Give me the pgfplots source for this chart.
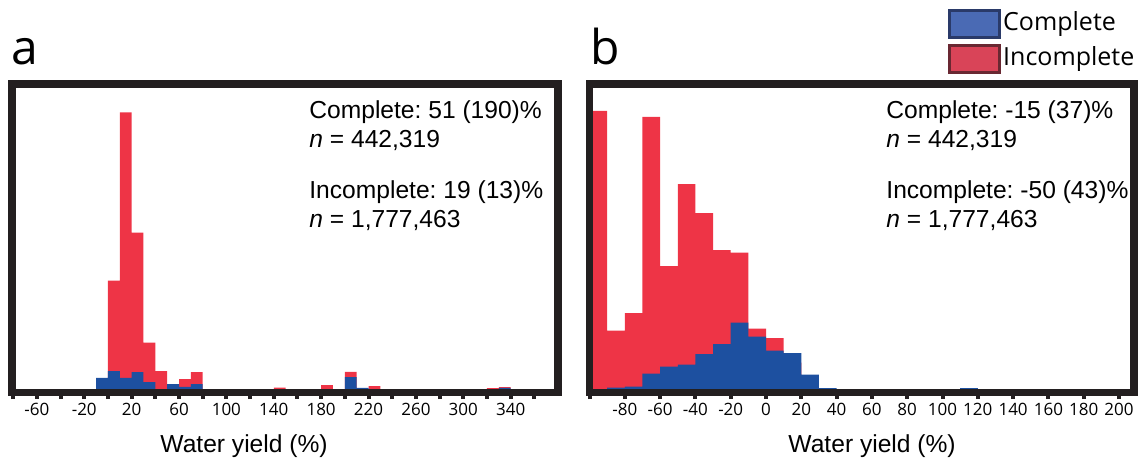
\documentclass[border=0pt]{standalone}
\usepackage{pgfplots}
\pgfplotsset{compat=1.18}
\usepackage{fontspec}
\setmainfont{Liberation Sans}
\newfontfamily\myr{Open Sans}
\frenchspacing

\definecolor{barred}{RGB}{238,52,70}
\definecolor{barblue}{RGB}{29,80,160}
\definecolor{framec}{RGB}{35,31,32}
\definecolor{legblue}{RGB}{74,106,180}
\definecolor{legblueb}{RGB}{42,58,105}
\definecolor{legred}{RGB}{217,68,88}
\definecolor{legredb}{RGB}{105,40,50}

\pgfplotsset{
  panel/.style={
    scale only axis,
    height=154.25pt,
    ymin=0, ymax=308.5,
    ytick=\empty,
    axis on top,
    axis line style={line width=3.75pt, draw=framec},
    tick align=outside,
    xtick pos=bottom,
    major tick length=3.25pt,
    minor tick length=3.25pt,
    every tick/.append style={line width=2pt, draw=framec},
    xticklabel style={font=\myr\fontsize{8.5}{9}\selectfont, anchor=base, yshift=-8.2pt},
    xlabel style={font=\fontsize{12.3}{14}\selectfont, anchor=base},
  },
  redbars/.style={ybar interval, fill=barred, draw=none, forget plot},
  bluebars/.style={ybar interval, fill=barblue, draw=none, forget plot},
}

\begin{document}
\begin{tikzpicture}[x=0.5pt, y=0.5pt]
\useasboundingbox (0,0) rectangle (1144,461);

% panel a
\begin{axis}[panel,
  at={(6pt,34.25pt)}, anchor=south west,
  width=273pt,
  xmin=-81, xmax=380,
  xtick={-60,-20,...,340},
  xticklabels={-60,-20,20,60,100,140,180,220,260,300,340},
  minor xtick={-80,-40,...,380},
  xlabel={Water yield (\%)},
  xlabel style={at={(axis description cs:0.425,0)}, yshift=-29.75pt},
]
\addplot[redbars] coordinates {
  (0,112) (10,280) (20,160) (30,50) (40,21.3) (50,6) (60,13.3) (70,20.3)
  (80,0) (140,5) (150,0) (180,7.3) (190,0) (200,20.7) (210,0) (220,6.3)
  (230,0) (320,4.5) (330,5.3) (340,0)
};
\addplot[bluebars] coordinates {
  (-10,14.7) (0,21.3) (10,14.7) (20,20.3) (30,10.3) (40,0) (50,8.3)
  (60,5.7) (70,8.3) (80,0) (200,15.3) (210,4.7) (220,0) (330,4.7) (340,0)
};
\end{axis}

% panel b
\begin{axis}[panel,
  at={(294.75pt,34.25pt)}, anchor=south west,
  width=272.25pt,
  xmin=-100, xmax=208.5,
  xtick={-80,-60,...,200},
  xticklabels={-80,-60,-40,-20,0,20,40,60,80,100,120,140,160,180,200},
  minor xtick={-100},
  xlabel={Water yield (\%)},
  xlabel style={at={(axis description cs:0.519,0)}, yshift=-29.75pt},
  legend style={draw=none, fill=none, at={(axis description cs:0.658,1.246)},
    anchor=north west, inner sep=0pt, row sep=2.5pt,
    font=\myr\fontsize{12.5}{12.5}\selectfont,
    nodes={inner sep=1pt, text height=9pt, text depth=2.5pt}},
  legend cell align=left,
  legend image code/.code={\draw[#1, line width=1.5pt] (0pt,-6.75pt) rectangle (25pt,6.75pt);},
]
\addplot[redbars] coordinates {
  (-100,281.5) (-90,61.8) (-80,79.5) (-70,275.5) (-60,126.5) (-50,208.5)
  (-40,179.5) (-30,142.5) (-20,139.8) (-10,63.8) (0,54.5) (10,30) (20,10) (30,0)
};
\addplot[bluebars] coordinates {
  (-100,0) (-90,4.8) (-80,5.8) (-70,18.8) (-60,25.8) (-50,27.8) (-40,38.5)
  (-30,48.5) (-20,69.8) (-10,55.8) (0,41.8) (10,39.5) (20,17.8) (30,4.5)
  (40,0) (110,4.5) (120,0)
};
\addlegendimage{fill=legblue, draw=legblueb}
\addlegendentry{Complete}
\addlegendimage{fill=legred, draw=legredb}
\addlegendentry{Incomplete}
\end{axis}

% panel letters
\node[anchor=base west, inner sep=0pt, font=\myr\fontsize{24}{24}\selectfont] at (11,396) {a};
\node[anchor=base west, inner sep=0pt, font=\myr\fontsize{24}{24}\selectfont] at (590,396) {b};

% summary statistics
\begin{scope}[every node/.style={anchor=base west, inner sep=0pt, font=\fontsize{12.3}{14}\selectfont}]
\node at (309,342) {Complete: 51 (190)\%};
\node at (309,313) {\textit{n} = 442,319};
\node at (309,263) {Incomplete: 19 (13)\%};
\node at (309,234) {\textit{n} = 1,777,463};
\node at (886,342) {Complete: -15 (37)\%};
\node at (886,313) {\textit{n} = 442,319};
\node at (886,263) {Incomplete: -50 (43)\%};
\node at (886,234) {\textit{n} = 1,777,463};
\end{scope}
\end{tikzpicture}
\end{document}
